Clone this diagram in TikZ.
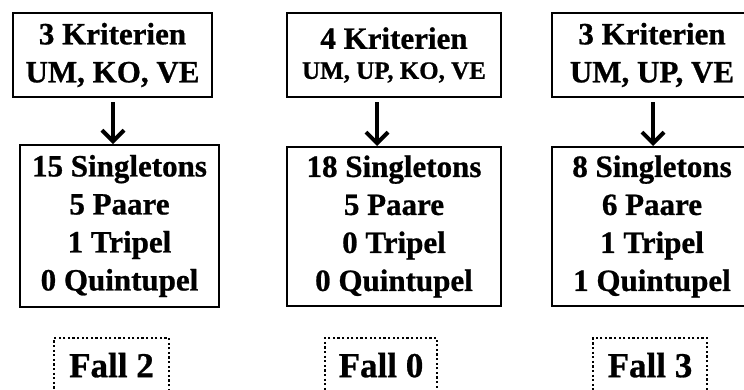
\documentclass[tikz,border=0pt]{standalone}
\usepackage{fontspec}
\setmainfont[BoldFeatures={FakeBold=0.8}]{Liberation Serif}
\usetikzlibrary{arrows.meta}
\begin{document}
\begin{tikzpicture}[x=1bp,y=-1bp,
  box/.style={draw, line width=2bp, rectangle, inner sep=0pt, align=center,
    font=\fontsize{31bp}{38bp}\selectfont\bfseries},
  fallbox/.style={draw, line width=1.4bp, dash pattern=on 2.2bp off 2.4bp,
    inner sep=0pt, text depth=8bp, minimum height=62bp,
    font=\fontsize{35bp}{38bp}\selectfont\bfseries},
  arr/.style={line width=4bp, -{Straight Barb[length=11bp,width=22bp]}}]
\useasboundingbox (0,0) rectangle (744,389);

% column 1
\node[box, minimum width=199bp, minimum height=84bp] (k2) at (112.5,55) {3 Kriterien\\UM, KO, VE};
\node[box, minimum width=199bp, minimum height=162bp] (r2) at (119.5,226) {15 Singletons\\5 Paare\\1 Tripel\\0 Quintupel};
\node[fallbox, minimum width=115bp] (f2) at (111.5,369) {Fall 2};
\draw[arr] ([yshift=-4bp,xshift=0.5bp]k2.south) -- ([xshift=0.5bp]k2.south |- r2.north);

% column 2
\node[box, minimum width=214bp, minimum height=84bp] (k0) at (394,55) {4 Kriterien\\[-8bp]{\fontsize{25bp}{38bp}\selectfont UM, UP, KO, VE}};
\node[box, minimum width=214bp, minimum height=159bp] (r0) at (394,226.5) {18 Singletons\\5 Paare\\0 Tripel\\0 Quintupel};
\node[fallbox, minimum width=112bp] (f0) at (381,369) {Fall 0};
\draw[arr] ([yshift=-4bp,xshift=-17bp]k0.south) -- ([xshift=-17bp]k0.south |- r0.north);

% column 3
\node[box, minimum width=200bp, minimum height=84bp] (k3) at (652,55) {3 Kriterien\\UM, UP, VE};
\node[box, minimum width=200bp, minimum height=159bp] (r3) at (652,226.5) {8 Singletons\\6 Paare\\1 Tripel\\1 Quintupel};
\node[fallbox, minimum width=114bp] (f3) at (650,369) {Fall 3};
\draw[arr] ([yshift=-4bp,xshift=1bp]k3.south) -- ([xshift=1bp]k3.south |- r3.north);
\end{tikzpicture}
\end{document}
